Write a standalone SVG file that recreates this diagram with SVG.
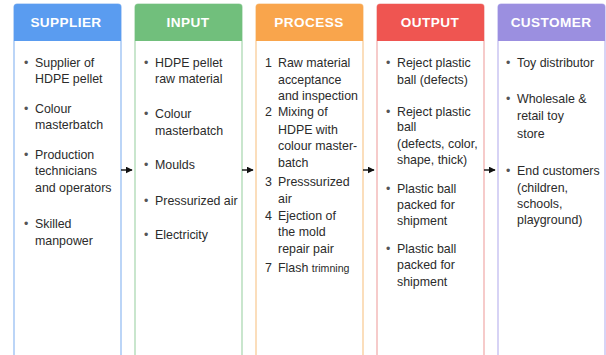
<svg xmlns="http://www.w3.org/2000/svg" width="606" height="355" viewBox="0 0 606 355">
<defs>
<style>
text{font-family:"Liberation Sans",Arial,sans-serif;}
.h{font-size:13.6px;font-weight:bold;fill:#fff;text-anchor:middle;letter-spacing:0.4px;}
.t{font-size:12.4px;fill:#2b2b2b;}
.b{font-size:12.4px;fill:#555;}
.s{font-size:10.6px;}
.body{fill:#fff;stroke-width:1.2;}
.ar{stroke:#111;stroke-width:1.4;fill:none;}
</style>
<marker id="ah" viewBox="0 0 10 10" refX="9" refY="5" markerWidth="5" markerHeight="5" orient="auto"><path d="M0,0 L10,5 L0,10 z" fill="#111"/></marker>
</defs>
<rect width="606" height="355" fill="#fff"/>

<g id="supplier">
<rect class="body" x="14" y="4" width="107" height="360" rx="3" stroke="#8fbaf2"/>
<path d="M14,41 V7 a3,3 0 0 1 3,-3 H118 a3,3 0 0 1 3,3 V41 z" fill="#5a9cf0"/>
<text class="h" x="66" y="27">SUPPLIER</text>
<text class="b" x="24" y="67">•</text>
<text class="t" x="35" y="67">Supplier of</text>
<text class="t" x="35" y="83">HDPE pellet</text>
<text class="b" x="24" y="113">•</text>
<text class="t" x="35" y="113">Colour</text>
<text class="t" x="35" y="129">masterbatch</text>
<text class="b" x="24" y="159">•</text>
<text class="t" x="35" y="159">Production</text>
<text class="t" x="35" y="175">technicians</text>
<text class="t" x="35" y="192">and operators</text>
<text class="b" x="24" y="228">•</text>
<text class="t" x="35" y="228">Skilled</text>
<text class="t" x="35" y="245">manpower</text>
</g>

<g id="input">
<rect class="body" x="135" y="4" width="107" height="360" rx="3" stroke="#a6d6ad"/>
<path d="M135,41 V7 a3,3 0 0 1 3,-3 H239 a3,3 0 0 1 3,3 V41 z" fill="#71bf7c"/>
<text class="h" x="188" y="27">INPUT</text>
<text class="b" x="144" y="67">•</text>
<text class="t" x="155" y="67">HDPE pellet</text>
<text class="t" x="155" y="83">raw material</text>
<text class="b" x="144" y="118">•</text>
<text class="t" x="155" y="118">Colour</text>
<text class="t" x="155" y="135">masterbatch</text>
<text class="b" x="144" y="169">•</text>
<text class="t" x="155" y="169">Moulds</text>
<text class="b" x="144" y="205">•</text>
<text class="t" x="155" y="205">Pressurized air</text>
<text class="b" x="144" y="239">•</text>
<text class="t" x="155" y="239">Electricity</text>
</g>

<g id="process">
<rect class="body" x="256" y="4" width="107" height="360" rx="3" stroke="#f8c890"/>
<path d="M256,41 V7 a3,3 0 0 1 3,-3 H360 a3,3 0 0 1 3,3 V41 z" fill="#f9a54c"/>
<text class="h" x="309" y="27">PROCESS</text>
<text class="t" x="265" y="67">1</text>
<text class="t" x="278" y="67">Raw material</text>
<text class="t" x="278" y="84">acceptance</text>
<text class="t" x="278" y="100">and inspection</text>
<text class="t" x="265" y="116">2</text>
<text class="t" x="278" y="116">Mixing of</text>
<text class="t" x="278" y="134">HDPE with</text>
<text class="t" x="278" y="150">colour master-</text>
<text class="t" x="278" y="167">batch</text>
<text class="t" x="265" y="186">3</text>
<text class="t" x="278" y="186">Presssurized</text>
<text class="t" x="278" y="203">air</text>
<text class="t" x="265" y="220">4</text>
<text class="t" x="278" y="220">Ejection of</text>
<text class="t" x="278" y="236">the mold</text>
<text class="t" x="278" y="253">repair pair</text>
<text class="t" x="265" y="272">7</text>
<text class="t" x="278" y="272">Flash <tspan class="s">trimning</tspan></text>
</g>

<g id="output">
<rect class="body" x="377" y="4" width="107" height="360" rx="3" stroke="#f0a9a8"/>
<path d="M377,41 V7 a3,3 0 0 1 3,-3 H481 a3,3 0 0 1 3,3 V41 z" fill="#ef5551"/>
<text class="h" x="430" y="27">OUTPUT</text>
<text class="b" x="386" y="67">•</text>
<text class="t" x="397" y="67">Reject plastic</text>
<text class="t" x="397" y="84">ball (defects)</text>
<text class="b" x="386" y="116">•</text>
<text class="t" x="397" y="116">Reject plastic</text>
<text class="t" x="397" y="131">ball</text>
<text class="t" x="397" y="148">(defects, color,</text>
<text class="t" x="397" y="164">shape, thick)</text>
<text class="b" x="386" y="193">•</text>
<text class="t" x="397" y="193">Plastic ball</text>
<text class="t" x="397" y="209">packed for</text>
<text class="t" x="397" y="225">shipment</text>
<text class="b" x="386" y="253">•</text>
<text class="t" x="397" y="253">Plastic ball</text>
<text class="t" x="397" y="269">packed for</text>
<text class="t" x="397" y="286">shipment</text>
</g>

<g id="customer">
<rect class="body" x="498" y="4" width="107" height="360" rx="3" stroke="#bdb6ee"/>
<path d="M498,41 V7 a3,3 0 0 1 3,-3 H602 a3,3 0 0 1 3,3 V41 z" fill="#9b8fe0"/>
<text class="h" x="551" y="27">CUSTOMER</text>
<text class="b" x="506" y="67">•</text>
<text class="t" x="517" y="67">Toy distributor</text>
<text class="b" x="506" y="103">•</text>
<text class="t" x="517" y="103">Wholesale &amp;</text>
<text class="t" x="517" y="120">retail toy</text>
<text class="t" x="517" y="138">store</text>
<text class="b" x="506" y="175">•</text>
<text class="t" x="517" y="175">End customers</text>
<text class="t" x="517" y="192">(children,</text>
<text class="t" x="517" y="208">schools,</text>
<text class="t" x="517" y="224">playground)</text>
</g>

<g id="connectors">
<line class="ar" x1="121" y1="170" x2="132" y2="170" marker-end="url(#ah)"/>
<line class="ar" x1="242" y1="170" x2="253" y2="170" marker-end="url(#ah)"/>
<line class="ar" x1="363" y1="170" x2="374" y2="170" marker-end="url(#ah)"/>
<line class="ar" x1="484" y1="170" x2="495" y2="170" marker-end="url(#ah)"/>
</g>
</svg>
